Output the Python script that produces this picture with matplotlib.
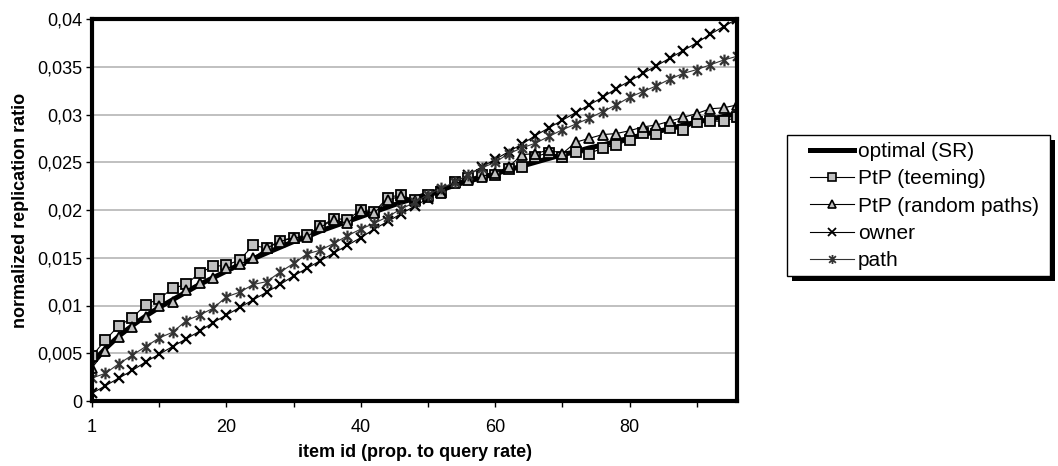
import numpy as np
import matplotlib
matplotlib.use('Agg')
import matplotlib.pyplot as plt
from matplotlib.path import Path
from matplotlib.lines import Line2D
from matplotlib.patches import Rectangle

plt.rcParams['font.family'] = ['Liberation Sans', 'DejaVu Sans']

# item ids on the category axis
items = [1, 2, 4, 6, 8, 10, 12, 14, 16, 18, 20, 22, 24, 26, 28, 30, 32, 34, 36, 38,
         40, 42, 44, 46, 48, 50, 52, 54, 56, 58, 60, 62, 64, 66, 68, 70, 72, 74, 76, 78,
         80, 82, 84, 86, 88, 90, 92, 94, 96]

optimal = [0.0040, 0.0055, 0.0068, 0.0079, 0.0089, 0.0098, 0.0106, 0.0114, 0.0122, 0.0129,
           0.0136, 0.0143, 0.0149, 0.0155, 0.0161, 0.0167, 0.0172, 0.0178, 0.0183, 0.0188,
           0.0193, 0.0198, 0.0203, 0.0208, 0.0212, 0.0217, 0.0221, 0.0226, 0.0230, 0.0234,
           0.0238, 0.0242, 0.0246, 0.0250, 0.0254, 0.0258, 0.0261, 0.0265, 0.0268, 0.0272,
           0.0275, 0.0279, 0.0282, 0.0285, 0.0289, 0.0292, 0.0295, 0.0298, 0.0301]

teeming = [0.0047, 0.0064, 0.0079, 0.0087, 0.0101, 0.0107, 0.0118, 0.0122, 0.0134, 0.0141,
           0.0142, 0.0148, 0.0163, 0.0160, 0.0168, 0.0171, 0.0174, 0.0183, 0.0191, 0.0190,
           0.0200, 0.0198, 0.0213, 0.0216, 0.0210, 0.0216, 0.0219, 0.0229, 0.0233, 0.0237,
           0.0237, 0.0243, 0.0245, 0.0256, 0.0260, 0.0256, 0.0261, 0.0259, 0.0265, 0.0268,
           0.0273, 0.0281, 0.0280, 0.0286, 0.0284, 0.0292, 0.0293, 0.0293, 0.0297]

random_paths = [0.0035, 0.0052, 0.0067, 0.0078, 0.0088, 0.0099, 0.0104, 0.0116, 0.0124, 0.0129,
                0.0139, 0.0143, 0.0150, 0.0160, 0.0167, 0.0171, 0.0172, 0.0182, 0.0190, 0.0186,
                0.0199, 0.0197, 0.0210, 0.0215, 0.0209, 0.0214, 0.0218, 0.0228, 0.0231, 0.0235,
                0.0239, 0.0245, 0.0258, 0.0259, 0.0263, 0.0259, 0.0271, 0.0275, 0.0279, 0.0280,
                0.0283, 0.0287, 0.0289, 0.0293, 0.0297, 0.0301, 0.0306, 0.0307, 0.0310]

owner = [0.0008, 0.0016, 0.0024, 0.0032, 0.0041, 0.0049, 0.0057, 0.0065, 0.0073, 0.0082,
         0.0090, 0.0098, 0.0106, 0.0114, 0.0122, 0.0131, 0.0139, 0.0147, 0.0155, 0.0163,
         0.0171, 0.0180, 0.0188, 0.0196, 0.0204, 0.0212, 0.0220, 0.0229, 0.0237, 0.0245,
         0.0253, 0.0261, 0.0269, 0.0278, 0.0286, 0.0294, 0.0302, 0.0310, 0.0318, 0.0327,
         0.0335, 0.0343, 0.0351, 0.0359, 0.0367, 0.0375, 0.0384, 0.0392, 0.0400]

path = [0.0024, 0.0029, 0.0039, 0.0048, 0.0057, 0.0066, 0.0072, 0.0084, 0.0090, 0.0097,
        0.0109, 0.0114, 0.0122, 0.0125, 0.0135, 0.0144, 0.0154, 0.0158, 0.0165, 0.0173,
        0.0180, 0.0186, 0.0193, 0.0201, 0.0208, 0.0216, 0.0223, 0.0229, 0.0237, 0.0244,
        0.0250, 0.0259, 0.0265, 0.0270, 0.0277, 0.0284, 0.0290, 0.0296, 0.0303, 0.0310,
        0.0318, 0.0324, 0.0330, 0.0337, 0.0343, 0.0347, 0.0352, 0.0357, 0.0361]

y_ticks = [0, 0.005, 0.01, 0.015, 0.02, 0.025, 0.03, 0.035, 0.04]
y_labels = ['0', '0,005', '0,01', '0,015', '0,02', '0,025', '0,03', '0,035', '0,04']
names = ['optimal (SR)', 'PtP (teeming)', 'PtP (random paths)', 'owner', 'path']

# excel style asterisk: vertical bar plus an x
asterisk = Path([(0, -1), (0, 1), (-0.75, -0.75), (0.75, 0.75), (-0.75, 0.75), (0.75, -0.75)],
                [Path.MOVETO, Path.LINETO, Path.MOVETO, Path.LINETO, Path.MOVETO, Path.LINETO])

light = '#c0c0c0'
dark = '#333333'
W, H = 1058, 466

fig = plt.figure(figsize=(W / 100, H / 100), dpi=100)
ax = fig.add_axes([92 / W, 65 / H, 645 / W, 382 / H])

x = np.arange(len(items))

ax.plot(x, optimal, color='black', lw=3.6, solid_capstyle='butt', zorder=3)
ax.plot(x, teeming, color='black', lw=0.8, marker='s', ms=6.5, mfc=light, mec='black', mew=1.3, zorder=4)
ax.plot(x, random_paths, color='black', lw=0.8, marker='^', ms=7, mfc=light, mec='black', mew=1.3, zorder=4)
ax.plot(x, owner, color='black', lw=0.8, marker='x', ms=7.5, mew=1.6, zorder=4)
ax.plot(x, path, color=dark, lw=0.8, marker=asterisk, ms=8.5, mec=dark, mew=1.6, zorder=4)

ax.set_xlim(0, len(items) - 1)
ax.set_ylim(0, 0.04)
ax.set_yticks(y_ticks)
ax.set_yticklabels(y_labels)
xt = list(range(0, len(items), 5))
ax.set_xticks(xt)
ax.set_xticklabels([str(items[i]) if i % 10 == 0 else '' for i in xt])

ax.grid(axis='y', color=light, lw=1.4, zorder=0)
ax.set_axisbelow(True)
for s in ax.spines.values():
    s.set_linewidth(3)
    s.set_color('black')
    s.set_zorder(5)
ax.tick_params(axis='both', labelsize=13, length=4, width=1, color='black', direction='out')
ax.tick_params(axis='x', pad=9)
ax.tick_params(axis='y', pad=3)

ax.set_xlabel('item id (prop. to query rate)', fontsize=13, fontweight='bold', labelpad=6)
ax.set_ylabel('normalized replication ratio', fontsize=13, fontweight='bold', labelpad=6)

# legend box and its shadow, drawn by hand in pixel positions
box_x0, box_y0, box_x1, box_y1 = 787, 135, 1050, 276
fig.add_artist(Rectangle(((box_x0 + 5) / W, 1 - (box_y1 + 5) / H), (box_x1 - box_x0) / W,
                         (box_y1 - box_y0) / H, transform=fig.transFigure,
                         facecolor='black', edgecolor='none', zorder=3))
fig.add_artist(Rectangle((box_x0 / W, 1 - box_y1 / H), (box_x1 - box_x0) / W,
                         (box_y1 - box_y0) / H, transform=fig.transFigure,
                         facecolor='white', edgecolor='black', lw=1, zorder=3.5))

handles = [
    Line2D([], [], color='black', lw=3.6),
    Line2D([], [], color='black', lw=0.8, marker='s', ms=5.5, mfc=light, mec='black', mew=1.2),
    Line2D([], [], color='black', lw=0.8, marker='^', ms=5.5, mfc=light, mec='black', mew=1.2),
    Line2D([], [], color='black', lw=0.8, marker='x', ms=5.5, mew=1.3),
    Line2D([], [], color=dark, lw=0.8, marker=asterisk, ms=6.5, mec=dark, mew=1.3),
]
leg = fig.legend(handles, names, loc='upper left', bbox_to_anchor=(810 / W, 1 - 142 / H),
                 bbox_transform=fig.transFigure, fontsize=15, frameon=False,
                 borderaxespad=0, borderpad=0, labelspacing=0.4, handlelength=2.1,
                 handletextpad=0.2)
leg.set_zorder(5)

fig.savefig('out.png', dpi=100)
